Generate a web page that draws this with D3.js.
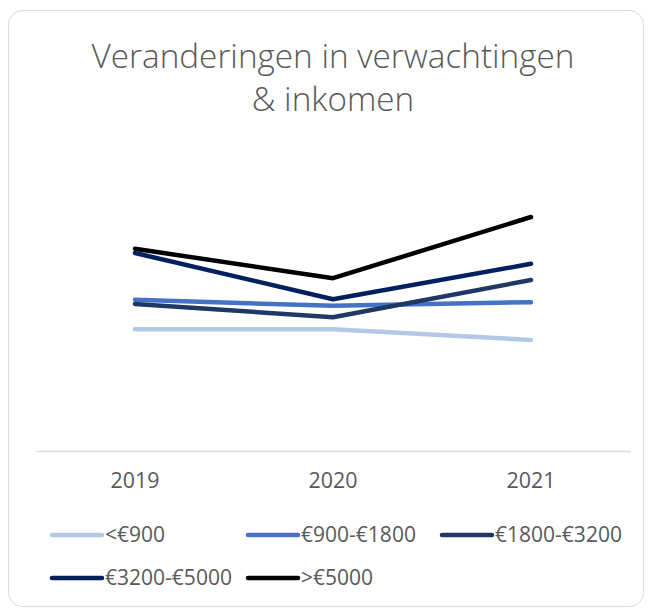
<!DOCTYPE html>
<html>
<head>
<meta charset="utf-8">
<script src="https://cdn.jsdelivr.net/npm/d3@7"></script>
<style>
  body { margin: 0; background: #fff; }
  svg { display: block; }
</style>
</head>
<body>
<div id="chart"></div>
<script>
// chart data (no y axis shown, so units are relative)
const years = ["2019", "2020", "2021"]
const seriesNames = ["<€900", "€900-€1800", "€1800-€3200", "€3200-€5000", ">€5000"]
const seriesColors = ["#b4c7e7", "#4472c4", "#203864", "#002060", "#000000"]
const below900 = [2.03, 2.03, 1.85]
const from900 = [2.52, 2.42, 2.48]
const from1800 = [2.45, 2.23, 2.85]
const from3200 = [3.30, 2.53, 3.12]
const above5000 = [3.37, 2.88, 3.90]
const seriesValues = [below900, from900, from1800, from3200, above5000]

const width = 653
const height = 610
const fontFamily = "'Open Sans', sans-serif"

const svg = d3.select("#chart").append("svg")
    .attr("width", width)
    .attr("height", height)

// shrink or grow a text so it spans the wanted width
function fitWidth(textSel, wanted) {
    const node = textSel.node()
    const size = parseFloat(textSel.attr("font-size"))
    const w = node.getComputedTextLength()
    if (w > 0) textSel.attr("font-size", size * wanted / w)
    return parseFloat(textSel.attr("font-size"))
}

// chart area border
svg.append("rect")
    .attr("x", 8.5).attr("y", 10.5)
    .attr("width", 635).attr("height", 596)
    .attr("rx", 14)
    .attr("fill", "#fff")
    .attr("stroke", "#d9d9d9")

// title
const titleLines = ["Veranderingen in verwachtingen", "& inkomen"]
const title = svg.append("text")
    .attr("text-anchor", "middle")
    .attr("font-family", fontFamily)
    .attr("font-weight", 300)
    .attr("font-size", 27)
    .attr("fill", "#595959")
title.append("tspan").attr("x", 333).attr("y", 68).text(titleLines[0])
fitWidth(title, 483)
title.append("tspan").attr("x", 333).attr("y", 111).text(titleLines[1])

const x = d3.scaleBand().domain(years).range([36, 630])
const y = d3.scaleLinear().domain([0, 5]).range([451, 151])

// category axis
const xAxis = svg.append("g")
    .attr("transform", "translate(0,451)")
    .call(d3.axisBottom(x).tickSize(0).tickPadding(22))
xAxis.select(".domain").attr("stroke", "#d9d9d9").attr("stroke-width", 1.5)
const tickText = xAxis.selectAll("text")
    .attr("font-family", fontFamily)
    .attr("font-size", 16)
    .attr("fill", "#595959")
const tickSize = fitWidth(xAxis.select(".tick text"), 49)
tickText.attr("font-size", tickSize)

const line = d3.line()
    .x((d, i) => x(years[i]) + x.bandwidth() / 2)
    .y(d => y(d))

svg.append("g")
    .selectAll("path")
    .data(seriesValues)
    .join("path")
    .attr("d", d => line(d))
    .attr("fill", "none")
    .attr("stroke", (d, i) => seriesColors[i])
    .attr("stroke-width", 4.5)
    .attr("stroke-linecap", "round")
    .attr("stroke-linejoin", "round")

// legend
const legendCols = [50, 246, 440]
const legendRows = [535, 578]
const legendItem = svg.append("g")
    .selectAll("g")
    .data(seriesNames)
    .join("g")
    .attr("transform", (d, i) => "translate(" + legendCols[i % 3] + "," + legendRows[Math.floor(i / 3)] + ")")

legendItem.append("line")
    .attr("x1", 2).attr("x2", 52)
    .attr("stroke", (d, i) => seriesColors[i])
    .attr("stroke-width", 4.5)
    .attr("stroke-linecap", "round")

const legendText = legendItem.append("text")
    .attr("x", 55)
    .attr("dy", "0.35em")
    .attr("font-family", fontFamily)
    .attr("font-size", 17)
    .attr("fill", "#595959")
    .text(d => d)
const legendSize = fitWidth(legendText.filter((d, i) => i === 1), 115)
legendText.attr("font-size", legendSize)
</script>
</body>
</html>
